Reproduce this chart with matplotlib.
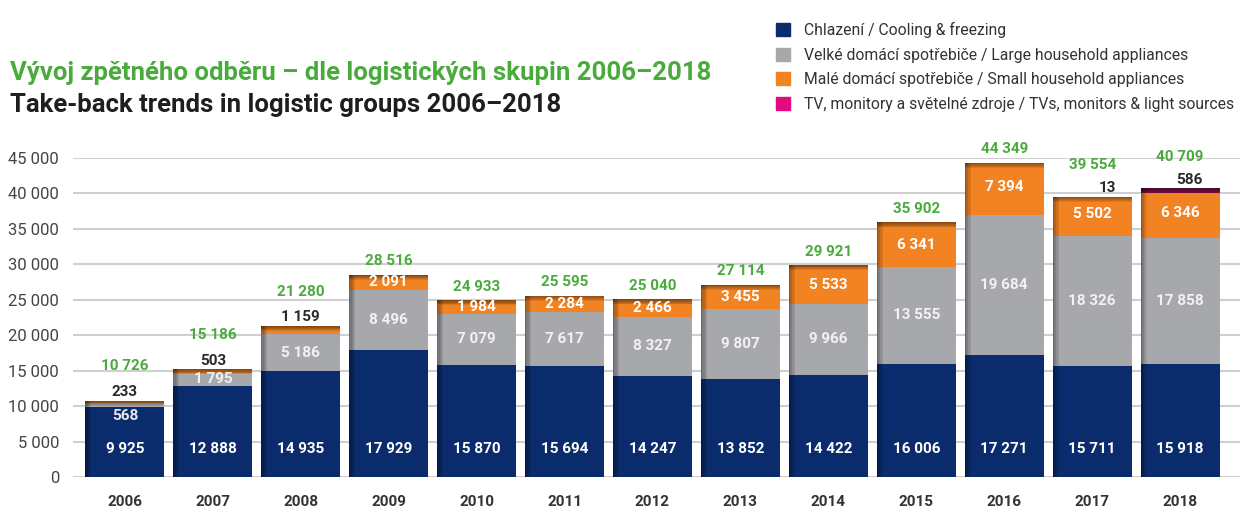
import matplotlib.pyplot as plt
from matplotlib.patches import Patch
import numpy as np

plt.rcParams['font.family'] = ['Roboto', 'DejaVu Sans']

years = ["2006", "2007", "2008", "2009", "2010", "2011", "2012",
         "2013", "2014", "2015", "2016", "2017", "2018"]
cooling = [9925, 12888, 14935, 17929, 15870, 15694, 14247, 13852, 14422, 16006, 17271, 15711, 15918]
large = [568, 1795, 5186, 8496, 7079, 7617, 8327, 9807, 9966, 13555, 19684, 18326, 17858]
small = [233, 503, 1159, 2091, 1984, 2284, 2466, 3455, 5533, 6341, 7394, 5502, 6346]
tv = [0, 0, 0, 0, 0, 0, 0, 0, 0, 0, 0, 13, 586]
totals = [10726, 15186, 21280, 28516, 24933, 25595, 25040, 27114, 29921, 35902, 44349, 39554, 40709]

legend_labels = [
    "Chlazení / Cooling & freezing",
    "Velké domácí spotřebiče / Large household appliances",
    "Malé domácí spotřebiče / Small household appliances",
    "TV, monitory a světelné zdroje / TVs, monitors & light sources",
]

NAVY = "#0a2c6d"
GREY = "#a7a8ab"
ORANGE = "#f28322"
MAGENTA = "#e4097f"
GREEN = "#4aab3d"


def fmt(v):
    return f"{v:,}".replace(",", " ")


fig = plt.figure(figsize=(12.48, 5.08), dpi=100)
ax = fig.add_axes([0.0585, 0.061, 0.935, 0.628])

x = np.arange(len(years))
w = 0.9
c = np.array(cooling)
l = np.array(large)
s = np.array(small)
t = np.array(tv)
top = c + l + s + t

ax.bar(x, c, w, color=NAVY, zorder=2)
ax.bar(x, l, w, bottom=c, color=GREY, zorder=2)
ax.bar(x, s, w, bottom=c + l, color=ORANGE, zorder=2)
ax.bar(x, t, w, bottom=c + l + s, color="#8a1050", zorder=2)

# shadow on top and left edges of bars
for k in range(6):
    h = 700 * (1 - k / 6)
    ax.bar(x, h, w, bottom=top - h, color="black", alpha=0.09, zorder=3, linewidth=0)
for k in range(5):
    sw = 0.07 * (1 - k / 5)
    ax.bar(x - w / 2 + sw / 2, top, sw, color="black", alpha=0.08, zorder=3, linewidth=0)

# value labels
for i in range(len(years)):
    ax.text(x[i], 4000, fmt(cooling[i]), ha="center", va="center",
            color="white", fontsize=11, fontweight="bold", zorder=4)
    if i == 0:
        ax.text(x[i], c[i] - 1300, fmt(large[i]), ha="center", va="center",
                color="#e8e8ec", fontsize=11, fontweight="bold", zorder=4)
    else:
        ax.text(x[i], c[i] + l[i] / 2, fmt(large[i]), ha="center", va="center",
                color="#f2f2f2", fontsize=11, fontweight="bold", zorder=4)
    if i < 3:
        ax.text(x[i], top[i] + 250, fmt(small[i]), ha="center", va="bottom",
                color="#2a2a2a", fontsize=11, fontweight="bold", zorder=4)
        ax.text(x[i], top[i] + 3900, fmt(totals[i]), ha="center", va="bottom",
                color=GREEN, fontsize=11, fontweight="bold", zorder=4)
    else:
        ax.text(x[i], c[i] + l[i] + s[i] / 2 + (250 if i > 9 else 0), fmt(small[i]),
                ha="center", va="center", color="white", fontsize=11,
                fontweight="bold", zorder=4)
        if tv[i] > 0:
            dx = 0.17 if i == 11 else 0.1
            ax.text(x[i] + dx, top[i] + 250, fmt(tv[i]), ha="center", va="bottom",
                    color="#2a2a2a", fontsize=11, fontweight="bold", zorder=4)
            ax.text(x[i], top[i] + 3500, fmt(totals[i]), ha="center", va="bottom",
                    color=GREEN, fontsize=11, fontweight="bold", zorder=4)
        else:
            ax.text(x[i], top[i] + 900, fmt(totals[i]), ha="center", va="bottom",
                    color=GREEN, fontsize=11, fontweight="bold", zorder=4)

ax.set_xlim(-0.59, 12.68)
ax.set_ylim(0, 45000)
ax.set_yticks(range(0, 45001, 5000))
ax.set_yticklabels([fmt(v) for v in range(0, 45001, 5000)], fontsize=12, color="#444444")
ax.set_xticks(x)
ax.set_xticklabels(years, fontsize=11, fontweight="bold", color="#333333")
ax.tick_params(axis="both", length=0)
ax.tick_params(axis="x", pad=13)
ax.tick_params(axis="y", pad=10)
ax.grid(axis="y", color="#cfcfcf", linewidth=1.5, zorder=0)
for sp in ax.spines.values():
    sp.set_visible(False)

fig.text(0.008, 1 - 80 / 508, "Vývoj zpětného odběru – dle logistických skupin 2006–2018",
         color=GREEN, fontsize=18.5, fontweight="bold", va="baseline")
fig.text(0.008, 1 - 112 / 508, "Take-back trends in logistic groups 2006–2018",
         color="#1e1e1e", fontsize=18.5, fontweight="bold", va="baseline")

handles = [Patch(color=col) for col in (NAVY, GREY, ORANGE, MAGENTA)]
fig.legend(handles, legend_labels, loc="upper left", bbox_to_anchor=(768 / 1248, 1 - 14 / 508),
           frameon=False, fontsize=11.3, handlelength=0.9, handleheight=0.9,
           handletextpad=0.9, labelspacing=0.62, borderpad=0, labelcolor="#333333")

fig.savefig("out.png", dpi=100)
